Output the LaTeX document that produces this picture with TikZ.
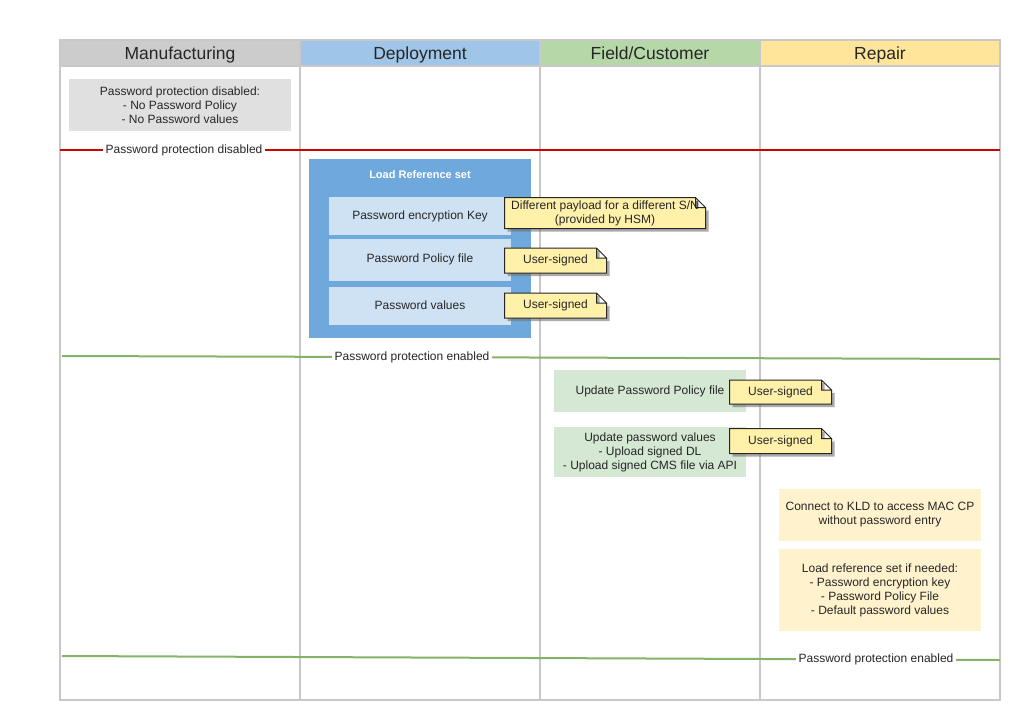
\documentclass[tikz,border=0pt]{standalone}
\usepackage{fontspec}
\setmainfont{Liberation Sans}
\usetikzlibrary{shadows}
\definecolor{lanegray}{RGB}{200,200,200}
\definecolor{headgray}{RGB}{204,204,204}
\definecolor{headblue}{RGB}{159,197,232}
\definecolor{headgreen}{RGB}{182,215,168}
\definecolor{headyellow}{RGB}{255,229,153}
\definecolor{boxgray}{RGB}{224,224,224}
\definecolor{refblue}{RGB}{111,168,220}
\definecolor{itemblue}{RGB}{207,226,243}
\definecolor{itemgreen}{RGB}{213,232,212}
\definecolor{itemyellow}{RGB}{255,242,204}
\definecolor{notefill}{RGB}{255,240,170}
\definecolor{linered}{RGB}{204,0,0}
\definecolor{linegreen}{RGB}{130,179,102}

% note shape with a folded top right corner
\makeatletter
\pgfdeclareshape{foldnote}{
  \inheritsavedanchors[from=rectangle]
  \inheritanchorborder[from=rectangle]
  \inheritanchor[from=rectangle]{center}
  \inheritanchor[from=rectangle]{text}
  \inheritanchor[from=rectangle]{north}
  \inheritanchor[from=rectangle]{south}
  \inheritanchor[from=rectangle]{east}
  \inheritanchor[from=rectangle]{west}
  \inheritanchor[from=rectangle]{north east}
  \inheritanchor[from=rectangle]{north west}
  \inheritanchor[from=rectangle]{south east}
  \inheritanchor[from=rectangle]{south west}
  \backgroundpath{
    \southwest \pgf@xa=\pgf@x \pgf@ya=\pgf@y
    \northeast \pgf@xb=\pgf@x \pgf@yb=\pgf@y
    \pgf@xc=\pgf@xb \advance\pgf@xc by -10pt
    \pgf@yc=\pgf@yb \advance\pgf@yc by -10pt
    \pgfpathmoveto{\pgfqpoint{\pgf@xa}{\pgf@ya}}
    \pgfpathlineto{\pgfqpoint{\pgf@xa}{\pgf@yb}}
    \pgfpathlineto{\pgfqpoint{\pgf@xc}{\pgf@yb}}
    \pgfpathlineto{\pgfqpoint{\pgf@xb}{\pgf@yc}}
    \pgfpathlineto{\pgfqpoint{\pgf@xb}{\pgf@ya}}
    \pgfpathclose
    \pgfpathmoveto{\pgfqpoint{\pgf@xc}{\pgf@yb}}
    \pgfpathlineto{\pgfqpoint{\pgf@xc}{\pgf@yc}}
    \pgfpathlineto{\pgfqpoint{\pgf@xb}{\pgf@yc}}
  }
}
\makeatother

\begin{document}
\begin{tikzpicture}[x=1pt, y=-1pt,
    every node/.style={font=\fontsize{12}{14}\selectfont, text=black!85},
    lanehead/.style={minimum height=26pt, inner sep=0pt, text height=15pt, text depth=3pt,
        font=\fontsize{17.5}{20}\selectfont},
    lane/.style={draw=lanegray, line width=2pt},
    item/.style={inner sep=0pt, align=center},
    usernote/.style={shape=foldnote, draw=black!85, fill=notefill, line width=1pt, inner sep=0pt, align=center,
        drop shadow={shadow xshift=3pt, shadow yshift=-3pt, fill=black!55, opacity=0.6}},
    statusline/.style={line width=2pt},
    statuslabel/.style={fill=white, inner sep=3pt}]
    \useasboundingbox (0,0) rectangle (1035,720);

    % Lane headers
    \node[lanehead, fill=headgray, minimum width=240pt] (hdMan) at (180,53) {Manufacturing};
    \node[lanehead, fill=headblue, minimum width=238pt, minimum height=24pt] (hdDep) at (420,53) {Deployment};
    \node[lanehead, fill=headgreen, minimum width=218pt, minimum height=24pt] (hdField) at (650,53) {Field/Customer};
    \node[lanehead, fill=headyellow, minimum width=238pt, minimum height=24pt] (hdRep) at (880,53) {Repair};

    % Lanes
    \draw[lane] (60,40) rectangle (1000,700);
    \draw[lane] (60,66) -- (1000,66);
    \draw[lane] (300,40) -- (300,700);
    \draw[lane] (540,40) -- (540,700);
    \draw[lane] (760,40) -- (760,700);

    % Manufacturing
    \node[item, fill=boxgray, minimum width=222pt, minimum height=52pt] (noPw) at (180,105)
        {Password protection disabled:\\- No Password Policy\\- No Password values};

    \coordinate (redL) at (60,150);
    \coordinate (redR) at (1000,150);
    \draw[statusline, linered] (redL) -- (redR);
    \node[statuslabel] (lblDisabled) at (184,150) {Password protection disabled};

    % Deployment
    \node[item, fill=refblue, minimum width=222pt, minimum height=179pt] (refSet) at (420,248.5) {};
    \node[font=\fontsize{11}{13}\selectfont\bfseries, text=white] (refTitle) at (420,175) {Load Reference set};
    \node[item, fill=itemblue, minimum width=182pt, minimum height=38pt] (encKey) at (420,216) {Password encryption Key};
    \node[item, fill=itemblue, minimum width=182pt, minimum height=42pt] (polFile) at (420,259.5) {Password Policy file};
    \node[item, fill=itemblue, minimum width=182pt, minimum height=38pt] (pwValues) at (420,305.5) {Password values};

    \node[usernote, minimum width=200pt, minimum height=30pt] (noteHsm) at (605,213)
        {Different payload for a different S/N\\(provided by HSM)};
    \node[usernote, minimum width=101pt, minimum height=24pt] (notePol) at (555.5,260.5) {User-signed};
    \node[usernote, minimum width=101pt, minimum height=24pt] (noteVal) at (555.5,305.5) {User-signed};

    \coordinate (grnAL) at (62,356);
    \coordinate (grnAR) at (1000,359);
    \draw[statusline, linegreen] (grnAL) -- (grnAR);
    \node[statuslabel] (lblEnabledA) at (412,357.5) {Password protection enabled};

    % Field/Customer
    \node[item, fill=itemgreen, minimum width=192pt, minimum height=42pt] (updPol) at (650,391) {Update Password Policy file};
    \node[item, fill=itemgreen, minimum width=192pt, minimum height=50pt] (updVal) at (650,452)
        {Update password values\\- Upload signed DL\\- Upload signed CMS file via API};
    \node[usernote, minimum width=101pt, minimum height=23pt] (noteUpdPol) at (780.5,392) {User-signed};
    \node[usernote, minimum width=101pt, minimum height=24pt] (noteUpdVal) at (780.5,441) {User-signed};

    % Repair
    \node[item, fill=itemyellow, minimum width=202pt, minimum height=52pt] (kld) at (880,515)
        {Connect to KLD to access MAC CP\\without password entry};
    \node[item, fill=itemyellow, minimum width=202pt, minimum height=82pt] (reload) at (880,590)
        {Load reference set if needed:\\- Password encryption key\\- Password Policy File\\- Default password values};

    \coordinate (grnBL) at (62,656);
    \coordinate (grnBR) at (1000,660);
    \draw[statusline, linegreen] (grnBL) -- (grnBR);
    \node[statuslabel] (lblEnabledB) at (876,659.5) {Password protection enabled};
\end{tikzpicture}
\end{document}
